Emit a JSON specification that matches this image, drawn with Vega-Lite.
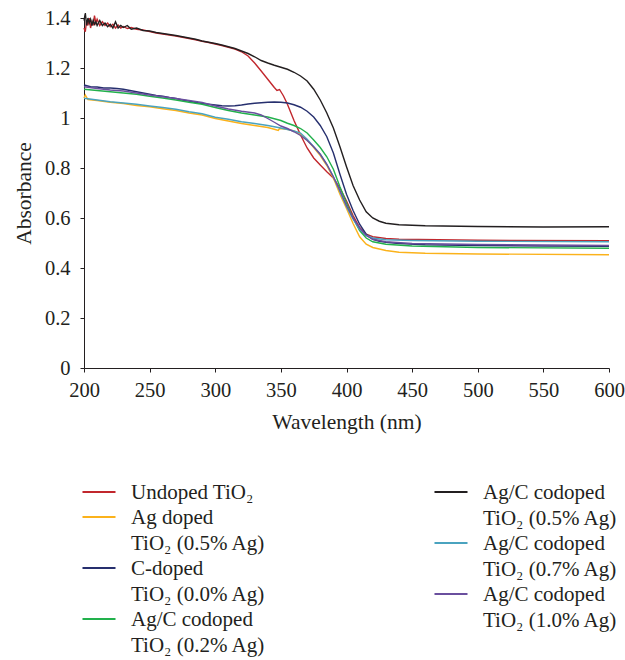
{
  "$schema": "https://vega.github.io/schema/vega-lite/v6.json",
  "width": 525,
  "height": 350,
  "autosize": {"type": "none"},
  "padding": {"left": 84, "top": 18, "right": 16, "bottom": 292},
  "background": "white",
  "config": {
    "view": {"stroke": null},
    "font": "Liberation Serif",
    "axis": {
      "labelFont": "Liberation Serif",
      "labelFontSize": 20.5,
      "labelColor": "#231f20",
      "labelFlush": false,
      "titleFont": "Liberation Serif",
      "titleFontSize": 21.5,
      "titleFontWeight": "normal",
      "titleColor": "#231f20",
      "domainColor": "#231f20",
      "tickColor": "#231f20",
      "tickSize": 4,
      "grid": false
    },
    "legend": {
      "labelFont": "Liberation Serif",
      "labelFontSize": 21,
      "labelColor": "#231f20",
      "labelLimit": 400,
      "symbolType": "M-1.27,0H1.27",
      "symbolSize": 676,
      "symbolStrokeWidth": 2,
      "labelOffset": 18,
      "rowPadding": 0,
      "padding": 0
    }
  },
  "data": {
    "values": [
      {"s": "U", "w": 200, "a": 1.36}, {"s": "U", "w": 201, "a": 1.345}, {"s": "U", "w": 202, "a": 1.39}, {"s": "U", "w": 203, "a": 1.37}, {"s": "U", "w": 204, "a": 1.4}, {"s": "U", "w": 205, "a": 1.36}, {"s": "U", "w": 206, "a": 1.385}, {"s": "U", "w": 207, "a": 1.37}, {"s": "U", "w": 208, "a": 1.41}, {"s": "U", "w": 209, "a": 1.38}, {"s": "U", "w": 210, "a": 1.395}, {"s": "U", "w": 212, "a": 1.37}, {"s": "U", "w": 214, "a": 1.385}, {"s": "U", "w": 216, "a": 1.37}, {"s": "U", "w": 218, "a": 1.38}, {"s": "U", "w": 220, "a": 1.365}, {"s": "U", "w": 222, "a": 1.375}, {"s": "U", "w": 224, "a": 1.36}, {"s": "U", "w": 226, "a": 1.372}, {"s": "U", "w": 228, "a": 1.36}, {"s": "U", "w": 230, "a": 1.366}, {"s": "U", "w": 233, "a": 1.358}, {"s": "U", "w": 236, "a": 1.362}, {"s": "U", "w": 240, "a": 1.355}, {"s": "U", "w": 245, "a": 1.352}, {"s": "U", "w": 250, "a": 1.346}, {"s": "U", "w": 255, "a": 1.34}, {"s": "U", "w": 260, "a": 1.336}, {"s": "U", "w": 265, "a": 1.332}, {"s": "U", "w": 270, "a": 1.328}, {"s": "U", "w": 275, "a": 1.323}, {"s": "U", "w": 280, "a": 1.318}, {"s": "U", "w": 285, "a": 1.313}, {"s": "U", "w": 290, "a": 1.307}, {"s": "U", "w": 295, "a": 1.302}, {"s": "U", "w": 300, "a": 1.296}, {"s": "U", "w": 305, "a": 1.29}, {"s": "U", "w": 310, "a": 1.283}, {"s": "U", "w": 315, "a": 1.276}, {"s": "U", "w": 320, "a": 1.265}, {"s": "U", "w": 325, "a": 1.248}, {"s": "U", "w": 330, "a": 1.22}, {"s": "U", "w": 335, "a": 1.188}, {"s": "U", "w": 340, "a": 1.155}, {"s": "U", "w": 345, "a": 1.122}, {"s": "U", "w": 347, "a": 1.11}, {"s": "U", "w": 349, "a": 1.114}, {"s": "U", "w": 352, "a": 1.088}, {"s": "U", "w": 355, "a": 1.055}, {"s": "U", "w": 360, "a": 0.99}, {"s": "U", "w": 365, "a": 0.932}, {"s": "U", "w": 370, "a": 0.88}, {"s": "U", "w": 375, "a": 0.84}, {"s": "U", "w": 380, "a": 0.812}, {"s": "U", "w": 385, "a": 0.785}, {"s": "U", "w": 390, "a": 0.76}, {"s": "U", "w": 395, "a": 0.72}, {"s": "U", "w": 400, "a": 0.668}, {"s": "U", "w": 405, "a": 0.61}, {"s": "U", "w": 410, "a": 0.562}, {"s": "U", "w": 415, "a": 0.535}, {"s": "U", "w": 420, "a": 0.525}, {"s": "U", "w": 430, "a": 0.518}, {"s": "U", "w": 440, "a": 0.515}, {"s": "U", "w": 500, "a": 0.511}, {"s": "U", "w": 600, "a": 0.509},

      {"s": "Ag", "w": 200, "a": 1.08}, {"s": "Ag", "w": 201, "a": 1.092}, {"s": "Ag", "w": 203, "a": 1.074}, {"s": "Ag", "w": 210, "a": 1.07}, {"s": "Ag", "w": 220, "a": 1.063}, {"s": "Ag", "w": 230, "a": 1.058}, {"s": "Ag", "w": 240, "a": 1.05}, {"s": "Ag", "w": 250, "a": 1.045}, {"s": "Ag", "w": 260, "a": 1.037}, {"s": "Ag", "w": 270, "a": 1.03}, {"s": "Ag", "w": 280, "a": 1.02}, {"s": "Ag", "w": 290, "a": 1.012}, {"s": "Ag", "w": 300, "a": 0.998}, {"s": "Ag", "w": 310, "a": 0.988}, {"s": "Ag", "w": 320, "a": 0.978}, {"s": "Ag", "w": 330, "a": 0.97}, {"s": "Ag", "w": 340, "a": 0.962}, {"s": "Ag", "w": 345, "a": 0.955}, {"s": "Ag", "w": 348, "a": 0.95}, {"s": "Ag", "w": 349, "a": 0.958}, {"s": "Ag", "w": 355, "a": 0.955}, {"s": "Ag", "w": 360, "a": 0.948}, {"s": "Ag", "w": 365, "a": 0.935}, {"s": "Ag", "w": 370, "a": 0.912}, {"s": "Ag", "w": 375, "a": 0.882}, {"s": "Ag", "w": 380, "a": 0.85}, {"s": "Ag", "w": 385, "a": 0.81}, {"s": "Ag", "w": 390, "a": 0.76}, {"s": "Ag", "w": 395, "a": 0.695}, {"s": "Ag", "w": 400, "a": 0.638}, {"s": "Ag", "w": 405, "a": 0.578}, {"s": "Ag", "w": 410, "a": 0.525}, {"s": "Ag", "w": 415, "a": 0.495}, {"s": "Ag", "w": 420, "a": 0.482}, {"s": "Ag", "w": 430, "a": 0.47}, {"s": "Ag", "w": 440, "a": 0.463}, {"s": "Ag", "w": 460, "a": 0.459}, {"s": "Ag", "w": 500, "a": 0.456}, {"s": "Ag", "w": 600, "a": 0.453},

      {"s": "C", "w": 200, "a": 1.132}, {"s": "C", "w": 205, "a": 1.125}, {"s": "C", "w": 210, "a": 1.124}, {"s": "C", "w": 215, "a": 1.12}, {"s": "C", "w": 220, "a": 1.12}, {"s": "C", "w": 225, "a": 1.118}, {"s": "C", "w": 230, "a": 1.115}, {"s": "C", "w": 235, "a": 1.11}, {"s": "C", "w": 240, "a": 1.105}, {"s": "C", "w": 245, "a": 1.1}, {"s": "C", "w": 250, "a": 1.095}, {"s": "C", "w": 255, "a": 1.09}, {"s": "C", "w": 260, "a": 1.087}, {"s": "C", "w": 265, "a": 1.082}, {"s": "C", "w": 270, "a": 1.078}, {"s": "C", "w": 275, "a": 1.072}, {"s": "C", "w": 280, "a": 1.068}, {"s": "C", "w": 285, "a": 1.062}, {"s": "C", "w": 290, "a": 1.058}, {"s": "C", "w": 295, "a": 1.055}, {"s": "C", "w": 300, "a": 1.052}, {"s": "C", "w": 305, "a": 1.049}, {"s": "C", "w": 310, "a": 1.048}, {"s": "C", "w": 315, "a": 1.049}, {"s": "C", "w": 320, "a": 1.052}, {"s": "C", "w": 325, "a": 1.056}, {"s": "C", "w": 330, "a": 1.059}, {"s": "C", "w": 335, "a": 1.061}, {"s": "C", "w": 340, "a": 1.063}, {"s": "C", "w": 345, "a": 1.064}, {"s": "C", "w": 350, "a": 1.063}, {"s": "C", "w": 355, "a": 1.06}, {"s": "C", "w": 360, "a": 1.053}, {"s": "C", "w": 365, "a": 1.043}, {"s": "C", "w": 370, "a": 1.027}, {"s": "C", "w": 375, "a": 1.004}, {"s": "C", "w": 380, "a": 0.97}, {"s": "C", "w": 385, "a": 0.925}, {"s": "C", "w": 390, "a": 0.86}, {"s": "C", "w": 395, "a": 0.775}, {"s": "C", "w": 400, "a": 0.695}, {"s": "C", "w": 405, "a": 0.63}, {"s": "C", "w": 410, "a": 0.575}, {"s": "C", "w": 415, "a": 0.535}, {"s": "C", "w": 420, "a": 0.515}, {"s": "C", "w": 425, "a": 0.507}, {"s": "C", "w": 430, "a": 0.503}, {"s": "C", "w": 440, "a": 0.498}, {"s": "C", "w": 460, "a": 0.493}, {"s": "C", "w": 500, "a": 0.49}, {"s": "C", "w": 550, "a": 0.488}, {"s": "C", "w": 600, "a": 0.487},

      {"s": "02", "w": 200, "a": 1.115}, {"s": "02", "w": 210, "a": 1.11}, {"s": "02", "w": 220, "a": 1.105}, {"s": "02", "w": 230, "a": 1.1}, {"s": "02", "w": 240, "a": 1.095}, {"s": "02", "w": 250, "a": 1.087}, {"s": "02", "w": 260, "a": 1.08}, {"s": "02", "w": 270, "a": 1.072}, {"s": "02", "w": 280, "a": 1.063}, {"s": "02", "w": 290, "a": 1.055}, {"s": "02", "w": 300, "a": 1.042}, {"s": "02", "w": 310, "a": 1.03}, {"s": "02", "w": 320, "a": 1.02}, {"s": "02", "w": 330, "a": 1.012}, {"s": "02", "w": 340, "a": 1.004}, {"s": "02", "w": 350, "a": 0.99}, {"s": "02", "w": 355, "a": 0.979}, {"s": "02", "w": 360, "a": 0.97}, {"s": "02", "w": 365, "a": 0.958}, {"s": "02", "w": 370, "a": 0.94}, {"s": "02", "w": 375, "a": 0.912}, {"s": "02", "w": 380, "a": 0.882}, {"s": "02", "w": 385, "a": 0.845}, {"s": "02", "w": 390, "a": 0.795}, {"s": "02", "w": 395, "a": 0.725}, {"s": "02", "w": 400, "a": 0.66}, {"s": "02", "w": 405, "a": 0.6}, {"s": "02", "w": 410, "a": 0.55}, {"s": "02", "w": 415, "a": 0.52}, {"s": "02", "w": 420, "a": 0.505}, {"s": "02", "w": 430, "a": 0.495}, {"s": "02", "w": 450, "a": 0.488}, {"s": "02", "w": 500, "a": 0.482}, {"s": "02", "w": 600, "a": 0.479},

      {"s": "05", "w": 200, "a": 1.39}, {"s": "05", "w": 201, "a": 1.42}, {"s": "05", "w": 202, "a": 1.37}, {"s": "05", "w": 203, "a": 1.4}, {"s": "05", "w": 204, "a": 1.38}, {"s": "05", "w": 205, "a": 1.395}, {"s": "05", "w": 206, "a": 1.37}, {"s": "05", "w": 207, "a": 1.39}, {"s": "05", "w": 208, "a": 1.375}, {"s": "05", "w": 209, "a": 1.385}, {"s": "05", "w": 210, "a": 1.37}, {"s": "05", "w": 212, "a": 1.39}, {"s": "05", "w": 214, "a": 1.37}, {"s": "05", "w": 216, "a": 1.38}, {"s": "05", "w": 218, "a": 1.365}, {"s": "05", "w": 220, "a": 1.375}, {"s": "05", "w": 222, "a": 1.36}, {"s": "05", "w": 224, "a": 1.385}, {"s": "05", "w": 226, "a": 1.36}, {"s": "05", "w": 228, "a": 1.37}, {"s": "05", "w": 230, "a": 1.362}, {"s": "05", "w": 233, "a": 1.37}, {"s": "05", "w": 236, "a": 1.355}, {"s": "05", "w": 240, "a": 1.36}, {"s": "05", "w": 245, "a": 1.35}, {"s": "05", "w": 250, "a": 1.348}, {"s": "05", "w": 255, "a": 1.342}, {"s": "05", "w": 260, "a": 1.338}, {"s": "05", "w": 265, "a": 1.334}, {"s": "05", "w": 270, "a": 1.33}, {"s": "05", "w": 275, "a": 1.325}, {"s": "05", "w": 280, "a": 1.32}, {"s": "05", "w": 285, "a": 1.315}, {"s": "05", "w": 290, "a": 1.308}, {"s": "05", "w": 295, "a": 1.303}, {"s": "05", "w": 300, "a": 1.298}, {"s": "05", "w": 305, "a": 1.292}, {"s": "05", "w": 310, "a": 1.285}, {"s": "05", "w": 315, "a": 1.278}, {"s": "05", "w": 320, "a": 1.268}, {"s": "05", "w": 325, "a": 1.258}, {"s": "05", "w": 330, "a": 1.245}, {"s": "05", "w": 335, "a": 1.23}, {"s": "05", "w": 340, "a": 1.22}, {"s": "05", "w": 345, "a": 1.211}, {"s": "05", "w": 350, "a": 1.203}, {"s": "05", "w": 355, "a": 1.195}, {"s": "05", "w": 360, "a": 1.183}, {"s": "05", "w": 365, "a": 1.168}, {"s": "05", "w": 370, "a": 1.148}, {"s": "05", "w": 375, "a": 1.115}, {"s": "05", "w": 380, "a": 1.072}, {"s": "05", "w": 385, "a": 1.02}, {"s": "05", "w": 390, "a": 0.96}, {"s": "05", "w": 395, "a": 0.885}, {"s": "05", "w": 400, "a": 0.805}, {"s": "05", "w": 405, "a": 0.73}, {"s": "05", "w": 410, "a": 0.672}, {"s": "05", "w": 415, "a": 0.625}, {"s": "05", "w": 420, "a": 0.6}, {"s": "05", "w": 425, "a": 0.587}, {"s": "05", "w": 430, "a": 0.579}, {"s": "05", "w": 440, "a": 0.573}, {"s": "05", "w": 460, "a": 0.569}, {"s": "05", "w": 500, "a": 0.566}, {"s": "05", "w": 550, "a": 0.564}, {"s": "05", "w": 600, "a": 0.565},

      {"s": "07", "w": 200, "a": 1.079}, {"s": "07", "w": 210, "a": 1.072}, {"s": "07", "w": 220, "a": 1.065}, {"s": "07", "w": 230, "a": 1.06}, {"s": "07", "w": 240, "a": 1.055}, {"s": "07", "w": 250, "a": 1.048}, {"s": "07", "w": 260, "a": 1.042}, {"s": "07", "w": 270, "a": 1.035}, {"s": "07", "w": 280, "a": 1.025}, {"s": "07", "w": 290, "a": 1.017}, {"s": "07", "w": 300, "a": 1.003}, {"s": "07", "w": 310, "a": 0.995}, {"s": "07", "w": 320, "a": 0.985}, {"s": "07", "w": 330, "a": 0.978}, {"s": "07", "w": 340, "a": 0.97}, {"s": "07", "w": 350, "a": 0.96}, {"s": "07", "w": 360, "a": 0.948}, {"s": "07", "w": 365, "a": 0.94}, {"s": "07", "w": 370, "a": 0.915}, {"s": "07", "w": 375, "a": 0.885}, {"s": "07", "w": 380, "a": 0.855}, {"s": "07", "w": 385, "a": 0.815}, {"s": "07", "w": 390, "a": 0.765}, {"s": "07", "w": 395, "a": 0.705}, {"s": "07", "w": 400, "a": 0.645}, {"s": "07", "w": 405, "a": 0.595}, {"s": "07", "w": 410, "a": 0.555}, {"s": "07", "w": 415, "a": 0.53}, {"s": "07", "w": 420, "a": 0.52}, {"s": "07", "w": 430, "a": 0.513}, {"s": "07", "w": 450, "a": 0.51}, {"s": "07", "w": 500, "a": 0.507}, {"s": "07", "w": 600, "a": 0.505},

      {"s": "10", "w": 200, "a": 1.125}, {"s": "10", "w": 210, "a": 1.118}, {"s": "10", "w": 220, "a": 1.112}, {"s": "10", "w": 230, "a": 1.108}, {"s": "10", "w": 240, "a": 1.1}, {"s": "10", "w": 250, "a": 1.092}, {"s": "10", "w": 260, "a": 1.085}, {"s": "10", "w": 270, "a": 1.078}, {"s": "10", "w": 280, "a": 1.07}, {"s": "10", "w": 290, "a": 1.062}, {"s": "10", "w": 300, "a": 1.048}, {"s": "10", "w": 310, "a": 1.036}, {"s": "10", "w": 320, "a": 1.027}, {"s": "10", "w": 330, "a": 1.02}, {"s": "10", "w": 335, "a": 1.012}, {"s": "10", "w": 340, "a": 0.998}, {"s": "10", "w": 345, "a": 0.983}, {"s": "10", "w": 350, "a": 0.968}, {"s": "10", "w": 355, "a": 0.958}, {"s": "10", "w": 360, "a": 0.945}, {"s": "10", "w": 365, "a": 0.93}, {"s": "10", "w": 370, "a": 0.91}, {"s": "10", "w": 375, "a": 0.885}, {"s": "10", "w": 380, "a": 0.855}, {"s": "10", "w": 385, "a": 0.815}, {"s": "10", "w": 390, "a": 0.765}, {"s": "10", "w": 395, "a": 0.71}, {"s": "10", "w": 400, "a": 0.65}, {"s": "10", "w": 405, "a": 0.6}, {"s": "10", "w": 410, "a": 0.56}, {"s": "10", "w": 415, "a": 0.53}, {"s": "10", "w": 420, "a": 0.515}, {"s": "10", "w": 430, "a": 0.505}, {"s": "10", "w": 450, "a": 0.498}, {"s": "10", "w": 500, "a": 0.494}, {"s": "10", "w": 600, "a": 0.49}
    ]
  },
  "encoding": {
    "x": {
      "field": "w", "type": "quantitative",
      "scale": {"domain": [200, 600], "nice": false},
      "axis": {"values": [200, 250, 300, 350, 400, 450, 500, 550, 600], "title": "Wavelength (nm)", "labelPadding": 8, "titlePadding": 11}
    },
    "y": {
      "field": "a", "type": "quantitative",
      "scale": {"domain": [0, 1.4], "nice": false},
      "axis": {"values": [0, 0.2, 0.4, 0.6, 0.8, 1, 1.2, 1.4], "format": "~g", "title": "Absorbance", "labelPadding": 10, "titlePadding": 9}
    }
  },
  "layer": [
    {
      "transform": [{"filter": {"field": "s", "oneOf": ["U", "Ag", "C", "02"]}}],
      "mark": {"type": "line", "strokeWidth": 1.4},
      "encoding": {
        "color": {
          "field": "s", "type": "nominal",
          "scale": {"domain": ["U", "Ag", "C", "02"], "range": ["#c1272d", "#fbb21b", "#262f6e", "#22b14c"]},
          "legend": {
            "title": null, "orient": "none", "legendX": 1, "legendY": 460,
            "labelExpr": "datum.label == 'U' ? 'Undoped TiO₂' : datum.label == 'Ag' ? ['Ag doped', 'TiO₂ (0.5% Ag)'] : datum.label == 'C' ? ['C-doped', 'TiO₂ (0.0% Ag)'] : ['Ag/C codoped', 'TiO₂ (0.2% Ag)']",
            "labelBaseline": "top",
            "encode": {"labels": {"update": {"lineHeight": {"value": 26}, "dy": {"value": -10}}}}
          }
        }
      }
    },
    {
      "transform": [{"filter": {"field": "s", "oneOf": ["05", "07", "10"]}}],
      "mark": {"type": "line", "strokeWidth": 1.4},
      "encoding": {
        "color": {
          "field": "s", "type": "nominal",
          "scale": {"domain": ["05", "07", "10"], "range": ["#231f20", "#4aa3bf", "#6a4f9e"]},
          "legend": {
            "title": null, "orient": "none", "legendX": 353, "legendY": 460,
            "labelExpr": "datum.label == '05' ? ['Ag/C codoped', 'TiO₂ (0.5% Ag)'] : datum.label == '07' ? ['Ag/C codoped', 'TiO₂ (0.7% Ag)'] : ['Ag/C codoped', 'TiO₂ (1.0% Ag)']",
            "labelBaseline": "top",
            "encode": {"labels": {"update": {"lineHeight": {"value": 26}, "dy": {"value": -10}}}}
          }
        }
      }
    }
  ],
  "resolve": {"scale": {"color": "independent"}}
}
